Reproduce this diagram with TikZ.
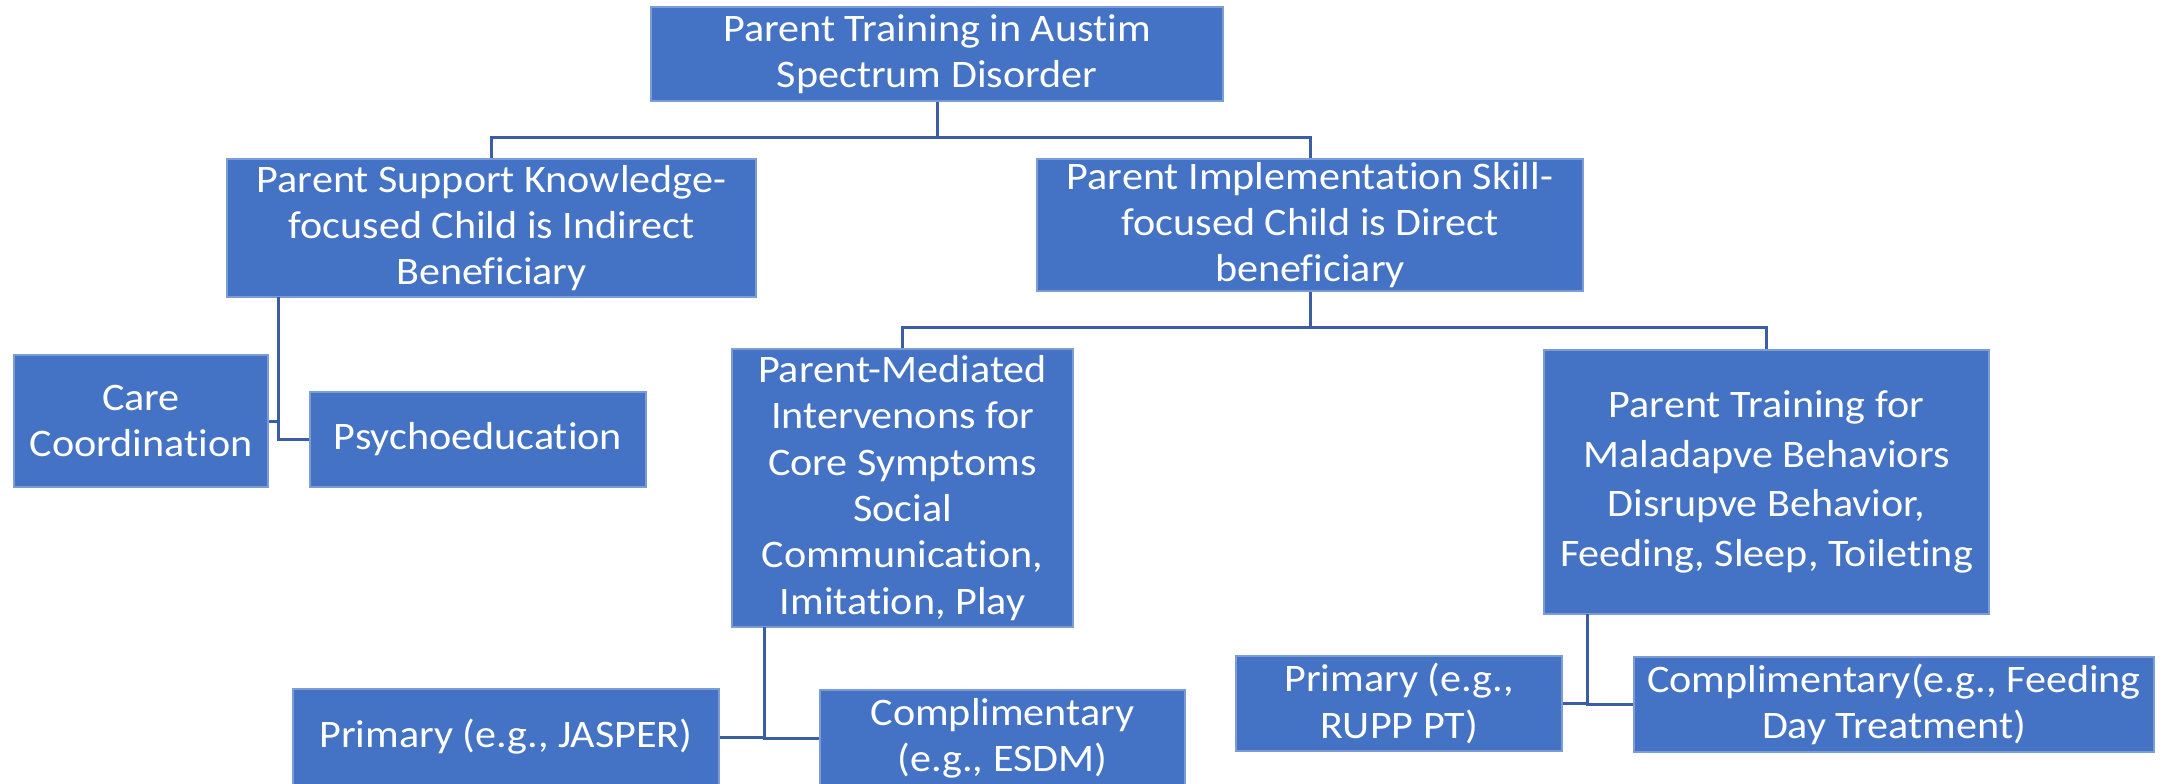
\documentclass[tikz,border=0pt]{standalone}
\usepackage{fontspec}
\setmainfont[FakeStretch=1.08, Ligatures=NoCommon]{Carlito}
\usetikzlibrary{positioning}
\definecolor{boxblue}{RGB}{68,114,196}
\definecolor{linkblue}{RGB}{59,93,165}

\begin{document}
\begin{tikzpicture}[x=0.5pt, y=-0.5pt,
        blockbox/.style={draw=boxblue!70!white, line width=0.6pt, fill=boxblue, text=white, align=center, inner sep=0pt, font=\fontsize{19.5pt}{23.15pt}\selectfont},
        link/.style={draw=linkblue, line width=1.5pt}]
        \path[fill=white, use as bounding box] (0,0) rectangle (2164,783);

        % Draw the boxes (top level)
        \node[blockbox, minimum width=286pt, minimum height=47pt] (root) at (937,54) {Parent Training in Austim\\Spectrum Disorder};

        % second level
        \node[blockbox, minimum width=264.5pt, minimum height=69pt] (ps) at (491.5,228) {Parent Support Knowledge-\\focused Child is Indirect\\Beneficiary};
        \node[blockbox, minimum width=273pt, minimum height=66pt] (pi) at (1310,225) {Parent Implementation Skill-\\focused Child is Direct\\beneficiary};

        % third level
        \node[blockbox, minimum width=127pt, minimum height=66pt] (cc) at (141,421) {Care\\Coordination};
        \node[blockbox, minimum width=168pt, minimum height=47.5pt] (pe) at (478,439.5) {Psychoeducation};
        \node[blockbox, minimum width=170.5pt, minimum height=139pt] (pm) at (902.5,488) {Parent-Mediated\\Intervenons for\\Core Symptoms\\Social\\Communication,\\Imitation, Play};
        \node[blockbox, minimum width=222.5pt, minimum height=132pt, font=\fontsize{19.5pt}{24.9pt}\selectfont] (ml) at (1766.5,482) {Parent Training for\\Maladapve Behaviors\\Disrupve Behavior,\\Feeding, Sleep, Toileting};

        % bottom level
        \node[blockbox, minimum width=213pt, minimum height=48pt] (jasper) at (506,737) {Primary (e.g., JASPER)};
        \node[blockbox, minimum width=182.5pt, minimum height=48pt] (esdm) at (1002.5,738) {Complimentary\\(e.g., ESDM)};
        \node[blockbox, minimum width=163pt, minimum height=47.5pt] (rupp) at (1399,703.5) {Primary (e.g.,\\RUPP PT)};
        \node[blockbox, minimum width=260pt, minimum height=47.5pt] (feed) at (1894,704.5) {Complimentary(e.g., Feeding\\Day Treatment)};

        % connectors from the top box
        \draw[link] (root.south) -- ++(0,36) -| (ps.north);
        \draw[link] (root.south) -- ++(0,36) -| (pi.north);
        \draw[link] (pi.south) -- ++(0,36) -| (pm.north);
        \draw[link] (pi.south) -- ++(0,36) -| (ml.north);

        % side drops
        \coordinate (psdrop) at (278,297);
        \coordinate (pmdrop) at (764,627);
        \coordinate (mldrop) at (1587,614);
        \draw[link] (psdrop) |- (pe.west);
        \draw[link] (psdrop |- cc.east) -- (cc.east);
        \draw[link] (pmdrop) |- (esdm.west);
        \draw[link] (pmdrop |- jasper.east) -- (jasper.east);
        \draw[link] (mldrop) |- (feed.west);
        \draw[link] (mldrop |- rupp.east) -- (rupp.east);
\end{tikzpicture}
\end{document}
